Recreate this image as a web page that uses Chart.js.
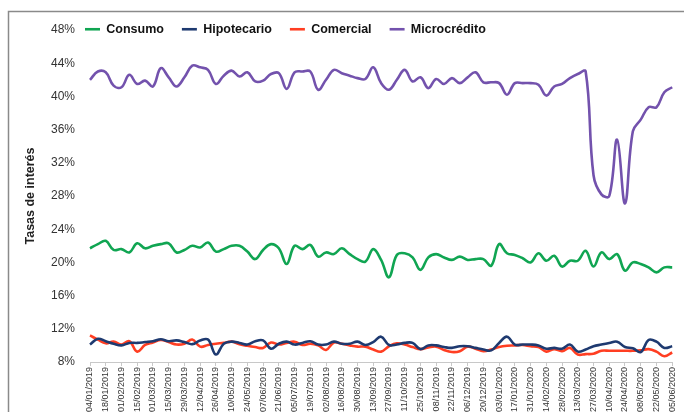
<!DOCTYPE html>
<html>
<head>
<meta charset="utf-8">
<script src="https://cdn.jsdelivr.net/npm/chart.js@4.4.1/dist/chart.umd.min.js"></script>
<style>
  html, body { margin: 0; padding: 0; background: #fff; overflow: hidden; }
  #wrap { width: 684px; height: 412px; }
</style>
</head>
<body>
<div id="wrap"><canvas id="tasasChart" width="684" height="412"></canvas></div>
<script>
// Fechas semanales (viernes)
var fechas = ['04/01/2019','11/01/2019','18/01/2019','25/01/2019','01/02/2019','08/02/2019','15/02/2019','22/02/2019','01/03/2019','08/03/2019',
  '15/03/2019','22/03/2019','29/03/2019','05/04/2019','12/04/2019','19/04/2019','26/04/2019','03/05/2019','10/05/2019','17/05/2019',
  '24/05/2019','31/05/2019','07/06/2019','14/06/2019','21/06/2019','28/06/2019','05/07/2019','12/07/2019','19/07/2019','26/07/2019',
  '02/08/2019','09/08/2019','16/08/2019','23/08/2019','30/08/2019','06/09/2019','13/09/2019','20/09/2019','27/09/2019','04/10/2019',
  '11/10/2019','18/10/2019','25/10/2019','01/11/2019','08/11/2019','15/11/2019','22/11/2019','29/11/2019','06/12/2019','13/12/2019',
  '20/12/2019','27/12/2019','03/01/2020','10/01/2020','17/01/2020','24/01/2020','31/01/2020','07/02/2020','14/02/2020','21/02/2020',
  '28/02/2020','06/03/2020','13/03/2020','20/03/2020','27/03/2020','03/04/2020','10/04/2020','17/04/2020','24/04/2020','01/05/2020',
  '08/05/2020','15/05/2020','22/05/2020','29/05/2020','05/06/2020'];

// Tasas (%)
var consumo = [21.7,22.2,22.6,21.5,21.6,21.2,22.3,21.7,22.0,22.2, 22.3,21.2,21.5,22.0,21.8,22.4,21.3,21.6,22.0,22.0,
  21.3,20.4,21.5,22.2,21.7,19.8,22.0,21.6,22.1,20.7, 21.2,21.0,21.7,21.0,20.4,20.1,21.6,20.3,18.2,20.9,
  21.1,20.6,19.1,20.6,21.0,20.6,20.3,20.7,20.3,20.4, 20.4,19.6,22.2,21.1,20.9,20.5,20.0,21.1,20.2,20.8,
  19.5,20.2,20.2,21.4,19.5,21.2,20.4,21.0,19.0,20.0, 19.8,19.4,18.8,19.4,19.4];

var hipotecario = [10.1,10.8,10.5,10.2,10.0,10.3,10.3,10.4,10.5,10.75, 10.5,10.6,10.4,10.15,10.6,10.7,8.9,10.2,10.45,10.3,
  10.1,10.5,10.6,9.6,10.2,10.45,10.1,10.3,10.5,10.1, 10.1,10.45,10.2,10.2,10.45,10.05,10.4,11.05,10.05,10.1,
  10.3,10.3,9.55,10.0,10.0,9.8,9.7,9.9,9.9,9.7, 9.5,9.4,10.3,11.05,10.1,10.1,10.1,10.0,9.6,9.7,
  9.6,10.1,9.25,9.5,9.9,10.1,10.3,10.45,9.8,9.65, 9.2,10.65,10.45,9.7,9.9];

var comercial = [11.2,10.7,10.25,10.45,10.1,10.5,9.25,10.05,10.35,10.65, 10.4,10.1,10.2,10.7,9.85,10.05,10.2,10.3,10.45,10.15,
  9.95,9.8,9.7,10.35,10.1,10.3,10.45,10.05,10.2,10.0, 9.45,10.35,10.2,10.0,9.85,9.85,9.5,9.25,9.9,10.25,
  10.1,9.8,9.55,9.75,9.85,9.45,9.2,9.3,9.85,9.6, 9.3,9.5,9.8,9.95,10.0,10.05,9.9,9.8,9.25,9.55,
  9.3,9.7,8.9,8.95,9.0,9.35,9.35,9.35,9.35,9.35, 9.4,9.55,9.25,8.7,9.15];

var microcredito = [42.0,43.0,42.9,41.3,41.1,42.6,41.5,41.9,41.2,43.4, 42.3,41.2,42.3,43.7,43.5,43.2,41.5,42.5,43.1,42.4,
  42.9,41.8,41.9,42.7,42.8,40.9,42.9,43.0,43.0,40.8, 42.0,43.2,42.8,42.5,42.2,42.1,43.5,41.6,40.8,42.0,
  43.2,41.8,42.3,41.0,42.1,41.5,42.2,41.6,42.3,42.9, 41.7,41.7,41.6,40.2,41.6,41.6,41.6,41.4,40.1,41.2,
  41.5,42.2,42.7,43.0,30.5,28.2,28.0,34.8,27.1,35.8, 37.2,38.7,38.7,40.5,41.1];

var ejeY = { min: 8, max: 48, paso: 4 };

var fuente = "'Liberation Sans', Arial, sans-serif";

function serie(nombre, datos, color) {
  return {
    label: nombre,
    data: datos,
    borderColor: color,
    backgroundColor: color,
    borderWidth: 2.6,
    pointRadius: 0,
    pointHoverRadius: 0,
    tension: 0.4,
    fill: false
  };
}

// Marco gris del recuadro y leyenda superpuesta al area del grafico
var marco = {
  id: 'marco',
  beforeLayout: function (chart) {
    var lg = chart.legend;
    if (lg && !lg._sinAltura) {
      var fitOriginal = lg.fit;
      // la leyenda no resta espacio al grafico
      lg.fit = function () { fitOriginal.call(this); this.height = 0; };
      lg._sinAltura = true;
    }
  },
  afterLayout: function (chart) {
    var lg = chart.legend;
    if (lg) {
      lg.left = 67;
      lg.right = 684;
      lg.width = 617;
      lg.top = 5;
      lg.bottom = 60;
      lg.height = 55;
    }
  },
  beforeDraw: function (chart) {
    var c = chart.ctx;
    c.save();
    c.strokeStyle = '#8a8a8a';
    c.lineWidth = 1.5;
    c.beginPath();
    c.moveTo(8.5, 412);
    c.lineTo(8.5, 11.5);
    c.lineTo(684, 11.5);
    c.stroke();
    c.restore();
  }
};

var ctx = document.getElementById('tasasChart').getContext('2d');
var tasasChart = new Chart(ctx, {
  type: 'line',
  data: {
    labels: fechas,
    datasets: [
      serie('Consumo', consumo, '#10a552'),
      serie('Hipotecario', hipotecario, '#1e3a70'),
      serie('Comercial', comercial, '#ff3e22'),
      serie('Microcrédito', microcredito, '#7352ad')
    ]
  },
  options: {
    responsive: false,
    animation: false,
    layout: { padding: { top: 30, right: 11, left: 0, bottom: 0 } },
    plugins: {
      tooltip: { enabled: false },
      legend: {
        position: 'top',
        align: 'start',
        labels: {
          usePointStyle: true,
          pointStyle: 'line',
          pointStyleWidth: 15,
          padding: 18,
          color: '#111',
          font: { family: fuente, size: 12.5, weight: 'bold' }
        }
      }
    },
    scales: {
      x: {
        offset: false,
        border: { display: true, color: '#c8c8c8', width: 1 },
        grid: {
          drawOnChartArea: false,
          drawTicks: true,
          tickLength: 4,
          color: function (c) { return c.index % 2 === 0 ? '#c8c8c8' : 'rgba(0,0,0,0)'; }
        },
        ticks: {
          autoSkip: false,
          minRotation: 90,
          maxRotation: 90,
          padding: 1,
          color: '#333',
          font: { family: fuente, size: 9 },
          callback: function (val, idx) {
            return idx % 2 === 0 ? this.getLabelForValue(val) : '';
          }
        },
        afterFit: function (scale) { scale.height = 50; }
      },
      y: {
        min: ejeY.min,
        max: ejeY.max,
        border: { display: false },
        grid: { display: false, drawTicks: false },
        ticks: {
          stepSize: ejeY.paso,
          padding: 15,
          color: '#333',
          font: { family: fuente, size: 12 },
          callback: function (v) { return v + '%'; }
        },
        title: {
          display: true,
          text: 'Tasas de interés',
          color: '#222',
          padding: { top: 23, bottom: 4 },
          font: { family: fuente, size: 12.5, weight: 'bold' }
        },
        afterFit: function (scale) { scale.width = 90; }
      }
    }
  },
  plugins: [marco]
});
</script>
</body>
</html>
